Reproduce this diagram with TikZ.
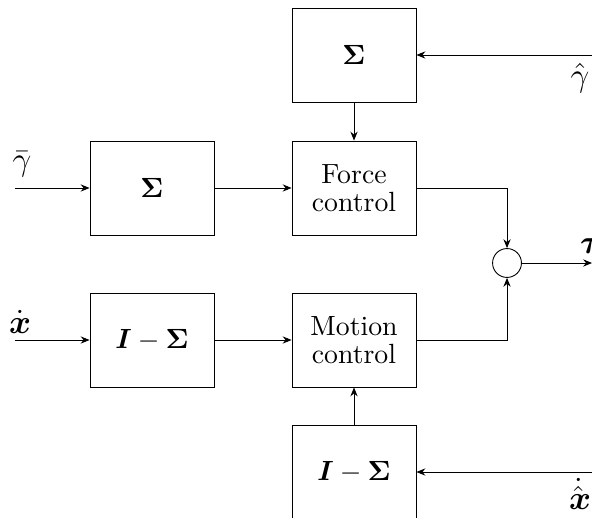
\documentclass[tikz,border=0pt]{standalone}
\usepackage{amsmath}
\usetikzlibrary{arrows.meta}
\begin{document}
\begin{tikzpicture}[x=0.36pt,y=-0.36pt,line width=0.32pt,
  blk/.style={draw,minimum width=44.64pt,minimum height=33.84pt,inner sep=0pt,align=center},
  sumnode/.style={draw,circle,minimum size=10.4pt,inner sep=0pt},
  sig/.style={-{Stealth[length=3.2pt,width=2.6pt]}},
  lbl/.style={inner sep=0pt,font=\large}]
\useasboundingbox (0,0) rectangle (592,518);
\clip (0,0) rectangle (592,518);
% blocks
\node[blk] (sigT) at (354,55) {$\boldsymbol{\Sigma}$};
\node[blk] (sigL) at (152,188) {$\boldsymbol{\Sigma}$};
\node[blk] (force) at (354,188) {Force\\[-2pt]control};
\node[blk] (ims) at (152,340) {$\boldsymbol{I}-\boldsymbol{\Sigma}$};
\node[blk] (motion) at (354,340) {Motion\\[-2pt]control};
\node[blk] (imsB) at (354,472) {$\boldsymbol{I}-\boldsymbol{\Sigma}$};
\node[sumnode] (sum) at (507,263) {};
% free ends
\coordinate (inG) at (15,188);
\coordinate (inX) at (15,340);
\coordinate (inGh) at (600,55);
\coordinate (inXh) at (600,472);
\coordinate (out) at (592,263);
% labels
\node[lbl] (lG) at (22,164) {$\bar{\gamma}$};
\node[lbl] (lX) at (20,322) {$\dot{\boldsymbol{x}}$};
\node[lbl] (lGh) at (580,78) {$\hat{\gamma}$};
\node[lbl] (lXh) at (580,494) {$\dot{\hat{\boldsymbol{x}}}$};
\node[lbl] (lT) at (591,246) {$\boldsymbol{\tau}$};
% connectors
\draw[sig] (inGh) -- (sigT.east);
\draw[sig] (sigT) -- (force);
\draw[sig] (inG) -- (sigL);
\draw[sig] (sigL) -- (force);
\draw[sig] (force.east) -| (sum.north);
\draw[sig] (inX) -- (ims);
\draw[sig] (ims) -- (motion);
\draw[sig] (motion.east) -| (sum.south);
\draw[sig] (sum.east) -- (out);
\draw[sig] (inXh) -- (imsB.east);
\draw[sig] (imsB) -- (motion);
\end{tikzpicture}
\end{document}
